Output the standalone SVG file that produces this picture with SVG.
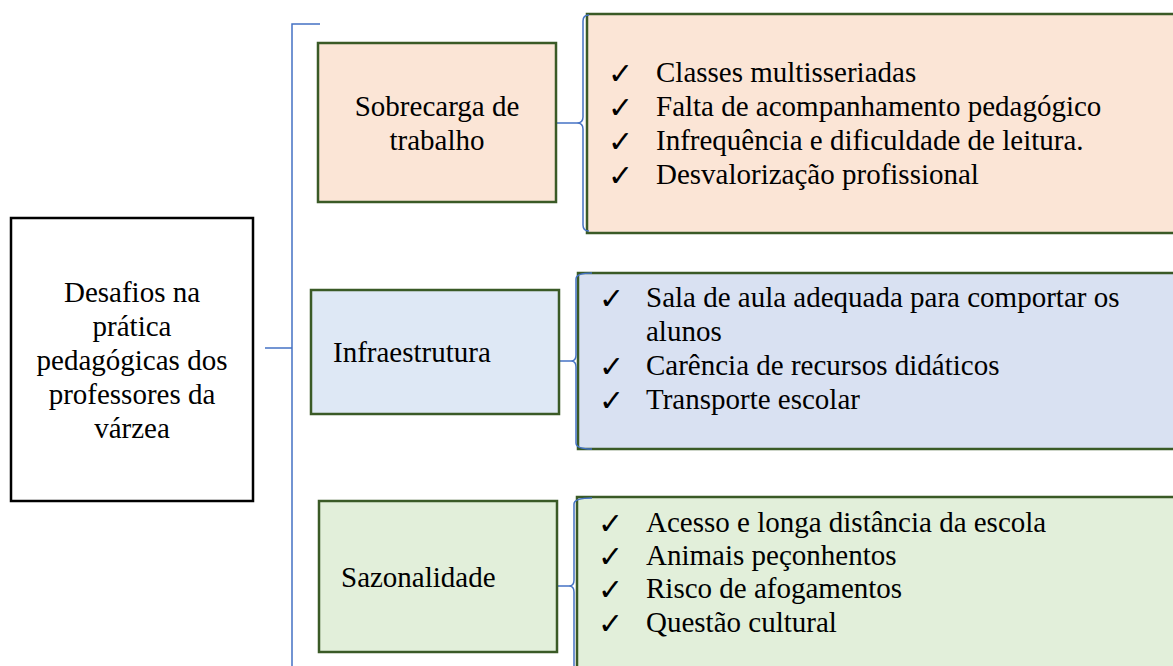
<svg xmlns="http://www.w3.org/2000/svg" width="1173" height="666" viewBox="0 0 1173 666">
<style>
.t{font-size:29px;fill:#000}
.ck{font-family:'DejaVu Sans',sans-serif;font-size:30px;fill:#000}
.box{stroke:#3a5a26;stroke-width:2.5}
.c{fill:none;stroke:#4472c4;stroke-width:1.5}
</style>
<rect width="1173" height="666" fill="#fff"/>
<g id="connectors">
<path class="c" d="M265 348 H292"/>
<path class="c" d="M320 24 H292 V670"/>
<path class="c" d="M556 123 H577"/>
<path class="c" d="M559 361 H571"/>
<path class="c" d="M557 586 H569"/>
</g>
<g font-family="Liberation Serif, Times New Roman, serif">
<g id="main">
<rect x="11" y="218" width="242" height="283" fill="#fff" stroke="#000" stroke-width="2.5"/>
<text class="t" text-anchor="middle" x="132" y="302">Desafios na</text>
<text class="t" text-anchor="middle" x="132" y="336">prática</text>
<text class="t" text-anchor="middle" x="132" y="370">pedagógicas dos</text>
<text class="t" text-anchor="middle" x="132" y="404">professores da</text>
<text class="t" text-anchor="middle" x="132" y="438">várzea</text>
</g>
<g id="sobrecarga">
<rect class="box" x="318" y="43" width="238" height="159" fill="#fbe5d6"/>
<text class="t" text-anchor="middle" x="437" y="116">Sobrecarga de</text>
<text class="t" text-anchor="middle" x="437" y="150">trabalho</text>
</g>
<g id="sobrecarga-list">
<rect class="box" x="587" y="14" width="600" height="219" fill="#fbe5d6"/>
<path class="c" d="M589 15 Q583 15 583 21 V117 Q583 123 577 123 Q583 123 583 129 V225 Q583 231 589 231"/>
<text class="ck" x="608" y="84">✓</text>
<text class="ck" x="608" y="118">✓</text>
<text class="ck" x="608" y="152">✓</text>
<text class="ck" x="608" y="186">✓</text>
<text class="t" x="656" y="82">Classes multisseriadas</text>
<text class="t" x="656" y="116">Falta de acompanhamento pedagógico</text>
<text class="t" x="656" y="150">Infrequência e dificuldade de leitura.</text>
<text class="t" x="656" y="184">Desvalorização profissional</text>
</g>
<g id="infraestrutura">
<rect class="box" x="311" y="290" width="248" height="124" fill="#dee8f5"/>
<text class="t" x="333" y="362">Infraestrutura</text>
</g>
<g id="infraestrutura-list">
<rect class="box" x="578" y="273" width="610" height="176" fill="#d9e1f2"/>
<path class="c" d="M592 273 Q576 273 576 279 V355 Q576 361 571 361 Q576 361 576 367 V443 Q576 449 592 449"/>
<text class="ck" x="599" y="309">✓</text>
<text class="ck" x="599" y="377">✓</text>
<text class="ck" x="599" y="411">✓</text>
<text class="t" x="646" y="307">Sala de aula adequada para comportar os</text>
<text class="t" x="646" y="341">alunos</text>
<text class="t" x="646" y="375">Carência de recursos didáticos</text>
<text class="t" x="646" y="409">Transporte escolar</text>
</g>
<g id="sazonalidade">
<rect class="box" x="319" y="501" width="238" height="151" fill="#e2efda"/>
<text class="t" x="341" y="587">Sazonalidade</text>
</g>
<g id="sazonalidade-list">
<rect class="box" x="577" y="497" width="610" height="190" fill="#e2efda"/>
<path class="c" d="M592 498 Q574 498 574 504 V580 Q574 586 569 586 Q574 586 574 592 V680"/>
<text class="ck" x="598" y="534">✓</text>
<text class="ck" x="598" y="567">✓</text>
<text class="ck" x="598" y="600">✓</text>
<text class="ck" x="598" y="634">✓</text>
<text class="t" x="646" y="532">Acesso e longa distância da escola</text>
<text class="t" x="646" y="565">Animais peçonhentos</text>
<text class="t" x="646" y="598">Risco de afogamentos</text>
<text class="t" x="646" y="632">Questão cultural</text>
</g>
</g>
</svg>
